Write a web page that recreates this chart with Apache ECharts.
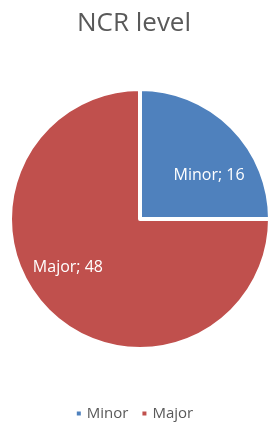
<!DOCTYPE html>
<html lang="en">
<head>
    <meta charset="UTF-8">
    <title>NCR level</title>
    <script src="https://cdn.jsdelivr.net/npm/echarts@6/dist/echarts.min.js"></script>
    <style>
        html, body { margin: 0; padding: 0; background: #fff; }
    </style>
</head>
<body>
    <div id="main" style="width: 268px;height:423px;"></div>
    <script type="text/javascript">
        // chart data
        var categories = ['Minor', 'Major'];
        var values = [16, 48];
        var colors = ['#4F81BD', '#C0504D'];
        // nudge labels to where the original chart put them
        var labelOffsets = [[21, 5], [-24, 0]];

        var data = [];
        for (var i = 0; i < categories.length; i++) {
            data.push({
                name: categories[i],
                value: values[i],
                itemStyle: { color: colors[i] },
                label: { offset: labelOffsets[i] }
            });
        }

        var myChart = echarts.init(document.getElementById('main'));
        var option = {
            animation: false,
            title: {
                text: 'NCR level',
                left: 'center',
                top: 6,
                padding: [5, 0, 5, 8],
                textStyle: {
                    fontFamily: 'Open Sans',
                    fontSize: 26,
                    fontWeight: 'normal',
                    color: '#595959'
                }
            },
            legend: {
                top: 401,
                left: 'center',
                padding: [5, 0, 5, 8],
                itemWidth: 6,
                itemHeight: 6,
                itemGap: 12,
                icon: 'rect',
                textStyle: {
                    fontFamily: 'Open Sans',
                    fontSize: 15,
                    color: '#595959'
                },
                data: categories
            },
            series: [{
                name: 'NCR level',
                type: 'pie',
                center: [140, 219],
                radius: 130,
                startAngle: 90,
                clockwise: true,
                data: data,
                itemStyle: {
                    borderColor: '#fff',
                    borderWidth: 4
                },
                label: {
                    position: 'inside',
                    formatter: '{b}; {c}',
                    color: '#fff',
                    fontFamily: 'Open Sans',
                    fontSize: 16
                },
                labelLine: { show: false },
                emphasis: { disabled: true }
            }]
        };
        option && myChart.setOption(option);
    </script>
</body>
</html>
